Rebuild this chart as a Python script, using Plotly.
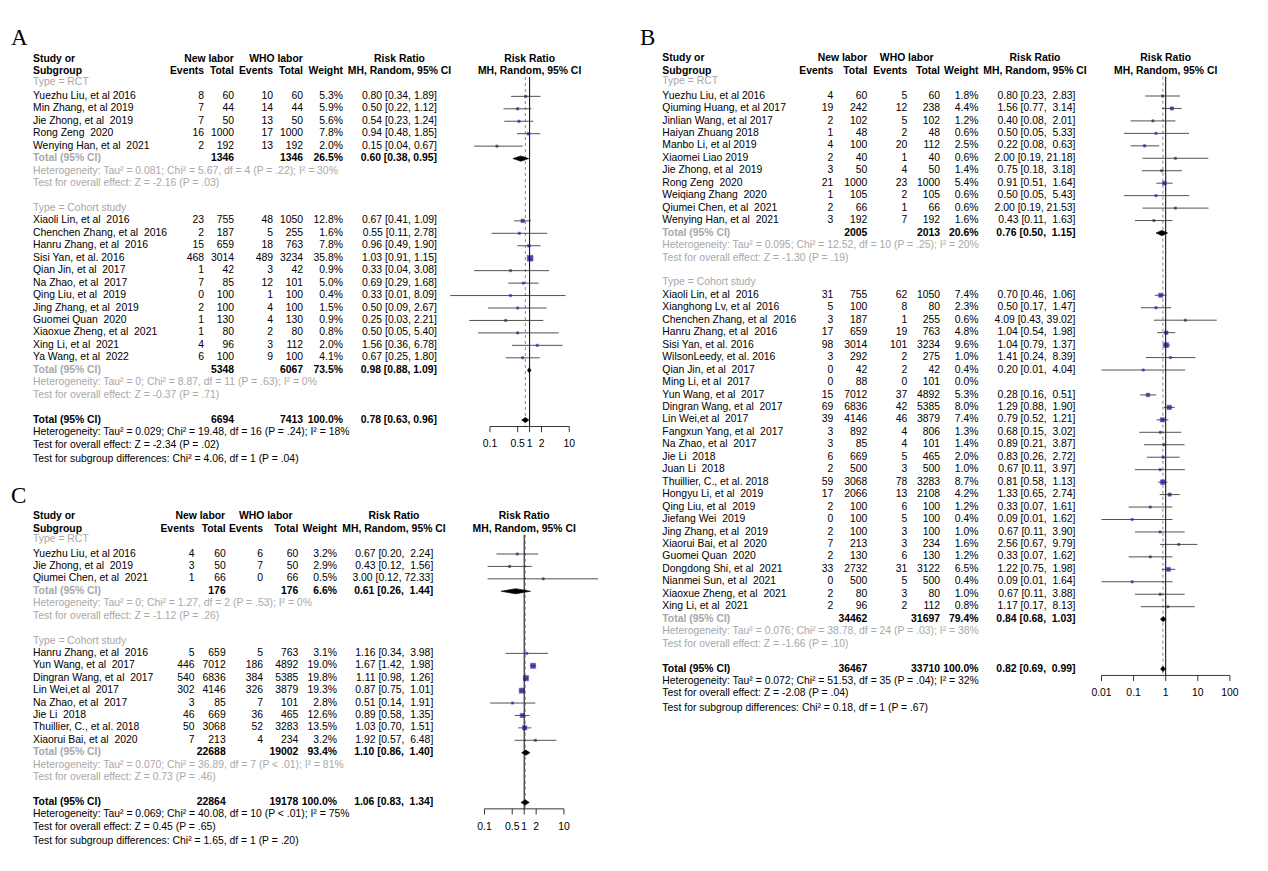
import math
import plotly.graph_objects as go

W, H = 1268, 871
OFF = 8  # page body margin of the browser
SANS = "Liberation Sans, Arial, sans-serif"
SERIF = "Liberation Serif, Times New Roman, serif"
FS = 10.4
GRAY = "#a8a8a8"

# ---------------- Panel A data ----------------
A_rct_study = ["Yuezhu Liu, et al 2016", "Min Zhang, et al 2019", "Jie Zhong, et al  2019",
               "Rong Zeng  2020", "Wenying Han, et al  2021"]
A_rct_ev1 = [8, 7, 7, 16, 2]
A_rct_n1 = [60, 44, 50, 1000, 192]
A_rct_ev2 = [10, 14, 13, 17, 13]
A_rct_n2 = [60, 44, 50, 1000, 192]
A_rct_w = [5.3, 5.9, 5.6, 7.8, 2.0]
A_rct_rr = [0.80, 0.50, 0.54, 0.94, 0.15]
A_rct_lo = [0.34, 0.22, 0.23, 0.48, 0.04]
A_rct_hi = [1.89, 1.12, 1.24, 1.85, 0.67]

A_coh_study = ["Xiaoli Lin, et al  2016", "Chenchen Zhang, et al  2016", "Hanru Zhang, et al  2016",
               "Sisi Yan, et al. 2016", "Qian Jin, et al  2017", "Na Zhao, et al  2017",
               "Qing Liu, et al  2019", "Jing Zhang, et al  2019", "Guomei Quan  2020",
               "Xiaoxue Zheng, et al  2021", "Xing Li, et al  2021", "Ya Wang, et al  2022"]
A_coh_ev1 = [23, 2, 15, 468, 1, 7, 0, 2, 1, 1, 4, 6]
A_coh_n1 = [755, 187, 659, 3014, 42, 85, 100, 100, 130, 80, 96, 100]
A_coh_ev2 = [48, 5, 18, 489, 3, 12, 1, 4, 4, 2, 3, 9]
A_coh_n2 = [1050, 255, 763, 3234, 42, 101, 100, 100, 130, 80, 112, 100]
A_coh_w = [12.8, 1.6, 7.8, 35.8, 0.9, 5.0, 0.4, 1.5, 0.9, 0.8, 2.0, 4.1]
A_coh_rr = [0.67, 0.55, 0.96, 1.03, 0.33, 0.69, 0.33, 0.50, 0.25, 0.50, 1.56, 0.67]
A_coh_lo = [0.41, 0.11, 0.49, 0.91, 0.04, 0.29, 0.01, 0.09, 0.03, 0.05, 0.36, 0.25]
A_coh_hi = [1.09, 2.78, 1.90, 1.15, 3.08, 1.68, 8.09, 2.67, 2.21, 5.40, 6.78, 1.80]

A_sub_names = ["RCT", "Cohort study"]
A_sub_n1 = [1346, 5348]
A_sub_n2 = [1346, 6067]
A_sub_w = [26.5, 73.5]
A_sub_rr = [0.60, 0.98]
A_sub_lo = [0.38, 0.88]
A_sub_hi = [0.95, 1.09]
A_sub_het = ["Heterogeneity: Tau² = 0.081; Chi² = 5.67, df = 4 (P = .22); I² = 30%",
             "Heterogeneity: Tau² = 0; Chi² = 8.87, df = 11 (P = .63); I² = 0%"]
A_sub_test = ["Test for overall effect: Z = -2.16 (P = .03)",
              "Test for overall effect: Z = -0.37 (P = .71)"]
A_all_n = [6694, 7413]
A_all_w = 100.0
A_all_rr = [0.78, 0.63, 0.96]
A_all_het = "Heterogeneity: Tau² = 0.029; Chi² = 19.48, df = 16 (P = .24); I² = 18%"
A_all_test = "Test for overall effect: Z = -2.34 (P = .02)"
A_sub_diff = "Test for subgroup differences: Chi² = 4.06, df = 1 (P = .04)"
A_ticks = [0.1, 0.5, 1, 2, 10]
A_ticklabels = ["0.1", "0.5", "1", "2", "10"]

# ---------------- Panel B data ----------------
B_rct_study = ["Yuezhu Liu, et al 2016", "Qiuming Huang, et al 2017", "Jinlian Wang, et al 2017",
               "Haiyan Zhuang 2018", "Manbo Li, et al 2019", "Xiaomei Liao 2019",
               "Jie Zhong, et al  2019", "Rong Zeng  2020", "Weiqiang Zhang  2020",
               "Qiumei Chen, et al  2021", "Wenying Han, et al  2021"]
B_rct_ev1 = [4, 19, 2, 1, 4, 2, 3, 21, 1, 2, 3]
B_rct_n1 = [60, 242, 102, 48, 100, 40, 50, 1000, 105, 66, 192]
B_rct_ev2 = [5, 12, 5, 2, 20, 1, 4, 23, 2, 1, 7]
B_rct_n2 = [60, 238, 102, 48, 112, 40, 50, 1000, 105, 66, 192]
B_rct_w = [1.8, 4.4, 1.2, 0.6, 2.5, 0.6, 1.4, 5.4, 0.6, 0.6, 1.6]
B_rct_rr = [0.80, 1.56, 0.40, 0.50, 0.22, 2.00, 0.75, 0.91, 0.50, 2.00, 0.43]
B_rct_lo = [0.23, 0.77, 0.08, 0.05, 0.08, 0.19, 0.18, 0.51, 0.05, 0.19, 0.11]
B_rct_hi = [2.83, 3.14, 2.01, 5.33, 0.63, 21.18, 3.18, 1.64, 5.43, 21.53, 1.63]

B_coh_study = ["Xiaoli Lin, et al  2016", "Xianghong Lv, et al  2016", "Chenchen Zhang, et al  2016",
               "Hanru Zhang, et al  2016", "Sisi Yan, et al. 2016", "WilsonLeedy, et al. 2016",
               "Qian Jin, et al  2017", "Ming Li, et al  2017", "Yun Wang, et al  2017",
               "Dingran Wang, et al  2017", "Lin Wei,et al  2017", "Fangxun Yang, et al  2017",
               "Na Zhao, et al  2017", "Jie Li  2018", "Juan Li  2018", "Thuillier, C., et al. 2018",
               "Hongyu Li, et al  2019", "Qing Liu, et al  2019", "Jiefang Wei  2019",
               "Jing Zhang, et al  2019", "Xiaorui Bai, et al  2020", "Guomei Quan  2020",
               "Dongdong Shi, et al  2021", "Nianmei Sun, et al  2021", "Xiaoxue Zheng, et al  2021",
               "Xing Li, et al  2021"]
B_coh_ev1 = [31, 5, 3, 17, 98, 3, 0, 0, 15, 69, 39, 3, 3, 6, 2, 59, 17, 2, 0, 2, 7, 2, 33, 0, 2, 2]
B_coh_n1 = [755, 100, 187, 659, 3014, 292, 42, 88, 7012, 6836, 4146, 892, 85, 669, 500, 3068, 2066,
            100, 100, 100, 213, 130, 2732, 500, 80, 96]
B_coh_ev2 = [62, 8, 1, 19, 101, 2, 2, 0, 37, 42, 46, 4, 4, 5, 3, 78, 13, 6, 5, 3, 3, 6, 31, 5, 3, 2]
B_coh_n2 = [1050, 80, 255, 763, 3234, 275, 42, 101, 4892, 5385, 3879, 806, 101, 465, 500, 3283, 2108,
            100, 100, 100, 234, 130, 3122, 500, 80, 112]
B_coh_w = [7.4, 2.3, 0.6, 4.8, 9.6, 1.0, 0.4, 0.0, 5.3, 8.0, 7.4, 1.3, 1.4, 2.0, 1.0, 8.7, 4.2,
           1.2, 0.4, 1.0, 1.6, 1.2, 6.5, 0.4, 1.0, 0.8]
B_coh_rr = [0.70, 0.50, 4.09, 1.04, 1.04, 1.41, 0.20, None, 0.28, 1.29, 0.79, 0.68, 0.89, 0.83, 0.67,
            0.81, 1.33, 0.33, 0.09, 0.67, 2.56, 0.33, 1.22, 0.09, 0.67, 1.17]
B_coh_lo = [0.46, 0.17, 0.43, 0.54, 0.79, 0.24, 0.01, None, 0.16, 0.88, 0.52, 0.15, 0.21, 0.26, 0.11,
            0.58, 0.65, 0.07, 0.01, 0.11, 0.67, 0.07, 0.75, 0.01, 0.11, 0.17]
B_coh_hi = [1.06, 1.47, 39.02, 1.98, 1.37, 8.39, 4.04, None, 0.51, 1.90, 1.21, 3.02, 3.87, 2.72, 3.97,
            1.13, 2.74, 1.61, 1.62, 3.90, 9.79, 1.62, 1.98, 1.64, 3.88, 8.13]

B_sub_names = ["RCT", "Cohort study"]
B_sub_n1 = [2005, 34462]
B_sub_n2 = [2013, 31697]
B_sub_w = [20.6, 79.4]
B_sub_rr = [0.76, 0.84]
B_sub_lo = [0.50, 0.68]
B_sub_hi = [1.15, 1.03]
B_sub_het = ["Heterogeneity: Tau² = 0.095; Chi² = 12.52, df = 10 (P = .25); I² = 20%",
             "Heterogeneity: Tau² = 0.076; Chi² = 38.78, df = 24 (P = .03); I² = 38%"]
B_sub_test = ["Test for overall effect: Z = -1.30 (P = .19)",
              "Test for overall effect: Z = -1.66 (P = .10)"]
B_all_n = [36467, 33710]
B_all_w = 100.0
B_all_rr = [0.82, 0.69, 0.99]
B_all_het = "Heterogeneity: Tau² = 0.072; Chi² = 51.53, df = 35 (P = .04); I² = 32%"
B_all_test = "Test for overall effect: Z = -2.08 (P = .04)"
B_sub_diff = "Test for subgroup differences: Chi² = 0.18, df = 1 (P = .67)"
B_ticks = [0.01, 0.1, 1, 10, 100]
B_ticklabels = ["0.01", "0.1", "1", "10", "100"]

# ---------------- Panel C data ----------------
C_rct_study = ["Yuezhu Liu, et al 2016", "Jie Zhong, et al  2019", "Qiumei Chen, et al  2021"]
C_rct_ev1 = [4, 3, 1]
C_rct_n1 = [60, 50, 66]
C_rct_ev2 = [6, 7, 0]
C_rct_n2 = [60, 50, 66]
C_rct_w = [3.2, 2.9, 0.5]
C_rct_rr = [0.67, 0.43, 3.00]
C_rct_lo = [0.20, 0.12, 0.12]
C_rct_hi = [2.24, 1.56, 72.33]

C_coh_study = ["Hanru Zhang, et al  2016", "Yun Wang, et al  2017", "Dingran Wang, et al  2017",
               "Lin Wei,et al  2017", "Na Zhao, et al  2017", "Jie Li  2018",
               "Thuillier, C., et al. 2018", "Xiaorui Bai, et al  2020"]
C_coh_ev1 = [5, 446, 540, 302, 3, 46, 50, 7]
C_coh_n1 = [659, 7012, 6836, 4146, 85, 669, 3068, 213]
C_coh_ev2 = [5, 186, 384, 326, 7, 36, 52, 4]
C_coh_n2 = [763, 4892, 5385, 3879, 101, 465, 3283, 234]
C_coh_w = [3.1, 19.0, 19.8, 19.3, 2.8, 12.6, 13.5, 3.2]
C_coh_rr = [1.16, 1.67, 1.11, 0.87, 0.51, 0.89, 1.03, 1.92]
C_coh_lo = [0.34, 1.42, 0.98, 0.75, 0.14, 0.58, 0.70, 0.57]
C_coh_hi = [3.98, 1.98, 1.26, 1.01, 1.91, 1.35, 1.51, 6.48]

C_sub_names = ["RCT", "Cohort study"]
C_sub_n1 = [176, 22688]
C_sub_n2 = [176, 19002]
C_sub_w = [6.6, 93.4]
C_sub_rr = [0.61, 1.10]
C_sub_lo = [0.26, 0.86]
C_sub_hi = [1.44, 1.40]
C_sub_het = ["Heterogeneity: Tau² = 0; Chi² = 1.27, df = 2 (P = .53); I² = 0%",
             "Heterogeneity: Tau² = 0.070; Chi² = 36.89, df = 7 (P < .01); I² = 81%"]
C_sub_test = ["Test for overall effect: Z = -1.12 (P = .26)",
              "Test for overall effect: Z = 0.73 (P = .46)"]
C_all_n = [22864, 19178]
C_all_w = 100.0
C_all_rr = [1.06, 0.83, 1.34]
C_all_het = "Heterogeneity: Tau² = 0.069; Chi² = 40.08, df = 10 (P < .01); I² = 75%"
C_all_test = "Test for overall effect: Z = 0.45 (P = .65)"
C_sub_diff = "Test for subgroup differences: Chi² = 1.65, df = 1 (P = .20)"
C_ticks = [0.1, 0.5, 1, 2, 10]
C_ticklabels = ["0.1", "0.5", "1", "2", "10"]

# ---------------- layout geometry (pixels in the reference picture) ----------------
GEO = {
    "A": dict(letter="A", lx=11, row0=83.9, step=12.45, study=33, ev1=204, n1=234, ev2=273, n2=303,
              w=343, rr=437, rr_head=399.5, new_head=209, who_head=276,
              f_one=529.6, f_dec=39.65, smax=5.8),
    "B": dict(letter="B", lx=640, row0=83.54, step=12.456, study=662.3, ev1=833.3, n1=867.3, ev2=907.3,
              n2=940, w=978.5, rr=1075.5, rr_head=1035, new_head=842.5, who_head=906.7,
              f_one=1165.7, f_dec=32.1, smax=4.8),
    "C": dict(letter="C", lx=11, row0=541.58, step=12.42, study=33, ev1=194.5, n1=225.7, ev2=263,
              n2=298.3, w=337, rr=433.3, rr_head=394, new_head=200.3, who_head=265.8,
              f_one=524.2, f_dec=39.75, smax=5.2),
}


def panel(prefix):
    g = globals()
    subs = []
    for key, idx in (("rct", 0), ("coh", 1)):
        subs.append(dict(
            name=g[prefix + "_sub_names"][idx],
            study=g[f"{prefix}_{key}_study"], ev1=g[f"{prefix}_{key}_ev1"], n1=g[f"{prefix}_{key}_n1"],
            ev2=g[f"{prefix}_{key}_ev2"], n2=g[f"{prefix}_{key}_n2"], w=g[f"{prefix}_{key}_w"],
            rr=g[f"{prefix}_{key}_rr"], lo=g[f"{prefix}_{key}_lo"], hi=g[f"{prefix}_{key}_hi"],
            tn1=g[prefix + "_sub_n1"][idx], tn2=g[prefix + "_sub_n2"][idx], tw=g[prefix + "_sub_w"][idx],
            trr=g[prefix + "_sub_rr"][idx], tlo=g[prefix + "_sub_lo"][idx], thi=g[prefix + "_sub_hi"][idx],
            het=g[prefix + "_sub_het"][idx], test=g[prefix + "_sub_test"][idx]))
    return dict(subs=subs, all_n=g[prefix + "_all_n"], all_w=g[prefix + "_all_w"],
                all_rr=g[prefix + "_all_rr"], all_het=g[prefix + "_all_het"],
                all_test=g[prefix + "_all_test"], diff=g[prefix + "_sub_diff"],
                ticks=g[prefix + "_ticks"], ticklabels=g[prefix + "_ticklabels"])


def up_width(P):
    vals = [h for s in P["subs"] for h in s["hi"] if h is not None]
    vals += [s["thi"] for s in P["subs"]] + [P["all_rr"][2]]
    return max(len(f"{v:.2f}") for v in vals)


def fmt_rr(rr, lo, hi, width):
    up = f"{hi:.2f}"
    return f"{rr:.2f} [{lo:.2f}, " + "\u00a0" * (width - len(up)) + up + "]"


def nm(s):
    return s.replace("  ", " \u00a0")


fig = go.Figure()
L, R, C = "middle right", "middle left", "middle center"

panels = [("A", "x2", "y"), ("B", "x3", "y2"), ("C", "x4", "y3")]
ranges = {}

for prefix, xf, ya in panels:
    P = panel(prefix)
    G = GEO[prefix]
    uw = up_width(P)
    items = []
    Bd = lambda t: "<b>" + t + "</b>"
    items += [(G["study"], -2, Bd("Study or"), L, "#000"), (G["study"], -1, Bd("Subgroup"), L, "#000"),
              (G["new_head"], -2, Bd("New labor"), C, "#000"), (G["who_head"], -2, Bd("WHO labor"), C, "#000"),
              (G["ev1"], -1, Bd("Events"), R, "#000"), (G["n1"], -1, Bd("Total"), R, "#000"),
              (G["ev2"], -1, Bd("Events"), R, "#000"), (G["n2"], -1, Bd("Total"), R, "#000"),
              (G["w"], -1, Bd("Weight"), R, "#000"),
              (G["rr_head"], -2, Bd("Risk Ratio"), C, "#000"), (G["rr_head"], -1, Bd("MH, Random, 95% CI"), C, "#000")]
    sq_row, sq_rr, sq_w, ci = [], [], [], []
    diamonds = []
    row = 0
    for s in P["subs"]:
        items.append((G["study"], row - (0.15 if row == 0 else 0), "Type = " + s["name"], L, GRAY))
        row += 1
        for i in range(len(s["study"])):
            items += [(G["study"], row, nm(s["study"][i]), L, "#000"),
                      (G["ev1"], row, str(s["ev1"][i]), R, "#000"), (G["n1"], row, str(s["n1"][i]), R, "#000"),
                      (G["ev2"], row, str(s["ev2"][i]), R, "#000"), (G["n2"], row, str(s["n2"][i]), R, "#000"),
                      (G["w"], row, f"{s['w'][i]:.1f}%", R, "#000")]
            if s["rr"][i] is not None:
                items.append((G["rr"], row, fmt_rr(s["rr"][i], s["lo"][i], s["hi"][i], uw), R, "#000"))
                sq_row.append(row); sq_rr.append(s["rr"][i]); sq_w.append(s["w"][i])
                ci.append((row, s["lo"][i], s["hi"][i]))
            row += 1
        items += [(G["study"], row, Bd("Total (95% CI)"), L, GRAY),
                  (G["n1"], row, Bd(str(s["tn1"])), R, "#000"), (G["n2"], row, Bd(str(s["tn2"])), R, "#000"),
                  (G["w"], row, Bd(f"{s['tw']:.1f}%"), R, "#000"),
                  (G["rr"], row, Bd(fmt_rr(s["trr"], s["tlo"], s["thi"], uw)), R, "#000")]
        diamonds.append((row, s["trr"], s["tlo"], s["thi"]))
        row += 1
        items.append((G["study"], row, s["het"], L, GRAY)); row += 1
        items.append((G["study"], row, s["test"], L, GRAY)); row += 2
    tot_row = row
    rr_all, lo_all, hi_all = P["all_rr"]
    items += [(G["study"], row, Bd("Total (95% CI)"), L, "#000"),
              (G["n1"], row, Bd(str(P["all_n"][0])), R, "#000"), (G["n2"], row, Bd(str(P["all_n"][1])), R, "#000"),
              (G["w"], row, Bd(f"{P['all_w']:.1f}%"), R, "#000"),
              (G["rr"], row, Bd(fmt_rr(rr_all, lo_all, hi_all, uw)), R, "#000"),
              (G["study"], row + 1, P["all_het"], L, "#000"),
              (G["study"], row + 2, P["all_test"], L, "#000"),
              (G["study"], row + 3.15, P["diff"], L, "#000")]
    diamonds.append((row, rr_all, lo_all, hi_all))

    fig.add_trace(go.Scatter(x=[t[0] for t in items], y=[t[1] for t in items], text=[t[2] for t in items],
                             textposition=[t[3] for t in items], mode="text",
                             textfont=dict(family=SANS, size=FS, color=[t[4] for t in items]),
                             xaxis="x", yaxis=ya, hoverinfo="skip", showlegend=False, cliponaxis=False))
    fig.add_trace(go.Scatter(x=[G["lx"]], y=[-3.55], text=[G["letter"]], mode="text", textposition=L,
                             textfont=dict(family=SERIF, size=23, color="#000"),
                             xaxis="x", yaxis=ya, hoverinfo="skip", showlegend=False, cliponaxis=False))

    # forest plot
    axis_row = tot_row + 0.52
    top_row = -0.55
    fig.add_trace(go.Scatter(x=[1, 1], y=[top_row, axis_row], mode="lines",
                             line=dict(color="#000", width=1), xaxis=xf, yaxis=ya,
                             hoverinfo="skip", showlegend=False))
    fig.add_trace(go.Scatter(x=[rr_all, rr_all], y=[top_row, axis_row], mode="lines",
                             line=dict(color="#666", width=0.8, dash="dot"), xaxis=xf, yaxis=ya,
                             hoverinfo="skip", showlegend=False))
    wmax = max(sq_w)
    fig.add_trace(go.Scatter(x=sq_rr, y=sq_row, mode="markers",
                             marker=dict(symbol="square", size=[max(2.2, G["smax"] * math.sqrt(w / wmax)) for w in sq_w],
                                         color="#000080", line=dict(color="#1414c8", width=0.6)),
                             xaxis=xf, yaxis=ya, hoverinfo="skip", showlegend=False, cliponaxis=False))
    cx, cy = [], []
    for r, lo, hi in ci:
        cx += [lo, hi, None]; cy += [r, r, None]
    fig.add_trace(go.Scatter(x=cx, y=cy, mode="lines", line=dict(color="#333333", width=0.85),
                             xaxis=xf, yaxis=ya, hoverinfo="skip", showlegend=False))
    dx, dy = [], []
    hh = 0.21
    for r, est, lo, hi in diamonds:
        dx += [lo, est, hi, est, lo, None]; dy += [r, r - hh, r, r + hh, r, None]
    fig.add_trace(go.Scatter(x=dx, y=dy, mode="lines", fill="toself", fillcolor="#000",
                             line=dict(color="#000", width=0.6), xaxis=xf, yaxis=ya,
                             hoverinfo="skip", showlegend=False))
    ax_x = [P["ticks"][0], P["ticks"][-1], None]
    ax_y = [axis_row, axis_row, None]
    for t in P["ticks"]:
        ax_x += [t, t, None]; ax_y += [axis_row, axis_row + 0.45, None]
    fig.add_trace(go.Scatter(x=ax_x, y=ax_y, mode="lines", line=dict(color="#000", width=0.8),
                             xaxis=xf, yaxis=ya, hoverinfo="skip", showlegend=False))
    fig.add_trace(go.Scatter(x=P["ticks"], y=[tot_row + 1.98] * len(P["ticks"]), text=P["ticklabels"],
                             mode="text", textposition=C, textfont=dict(family=SANS, size=FS, color="#000"),
                             xaxis=xf, yaxis=ya, hoverinfo="skip", showlegend=False, cliponaxis=False))
    fig.add_trace(go.Scatter(x=[1, 1], y=[-2, -1], text=[Bd("Risk Ratio"), Bd("MH, Random, 95% CI")],
                             mode="text", textposition=C, textfont=dict(family=SANS, size=FS, color="#000"),
                             xaxis=xf, yaxis=ya, hoverinfo="skip", showlegend=False, cliponaxis=False))
    # axis ranges: reference pixel p is drawn at figure pixel p - OFF
    ranges[ya] = [(H - G["row0"]) / G["step"], -(G["row0"] - OFF) / G["step"]]
    ranges[xf] = [-(G["f_one"] - OFF) / G["f_dec"], (W - G["f_one"]) / G["f_dec"]]

hidden = dict(visible=False, fixedrange=True, domain=[0, 1])
fig.update_layout(
    width=W - OFF, height=H - OFF, margin=dict(l=0, r=0, t=0, b=0, pad=0),
    paper_bgcolor="white", plot_bgcolor="white", showlegend=False,
    xaxis=dict(range=[OFF, W], **hidden),
    xaxis2=dict(type="log", range=ranges["x2"], overlaying="x", **hidden),
    xaxis3=dict(type="log", range=ranges["x3"], overlaying="x", **hidden),
    xaxis4=dict(type="log", range=ranges["x4"], overlaying="x", **hidden),
    yaxis=dict(range=ranges["y"], **hidden),
    yaxis2=dict(range=ranges["y2"], overlaying="y", **hidden),
    yaxis3=dict(range=ranges["y3"], overlaying="y", **hidden),
)
fig.write_html("out.html", config={"displayModeBar": False})
